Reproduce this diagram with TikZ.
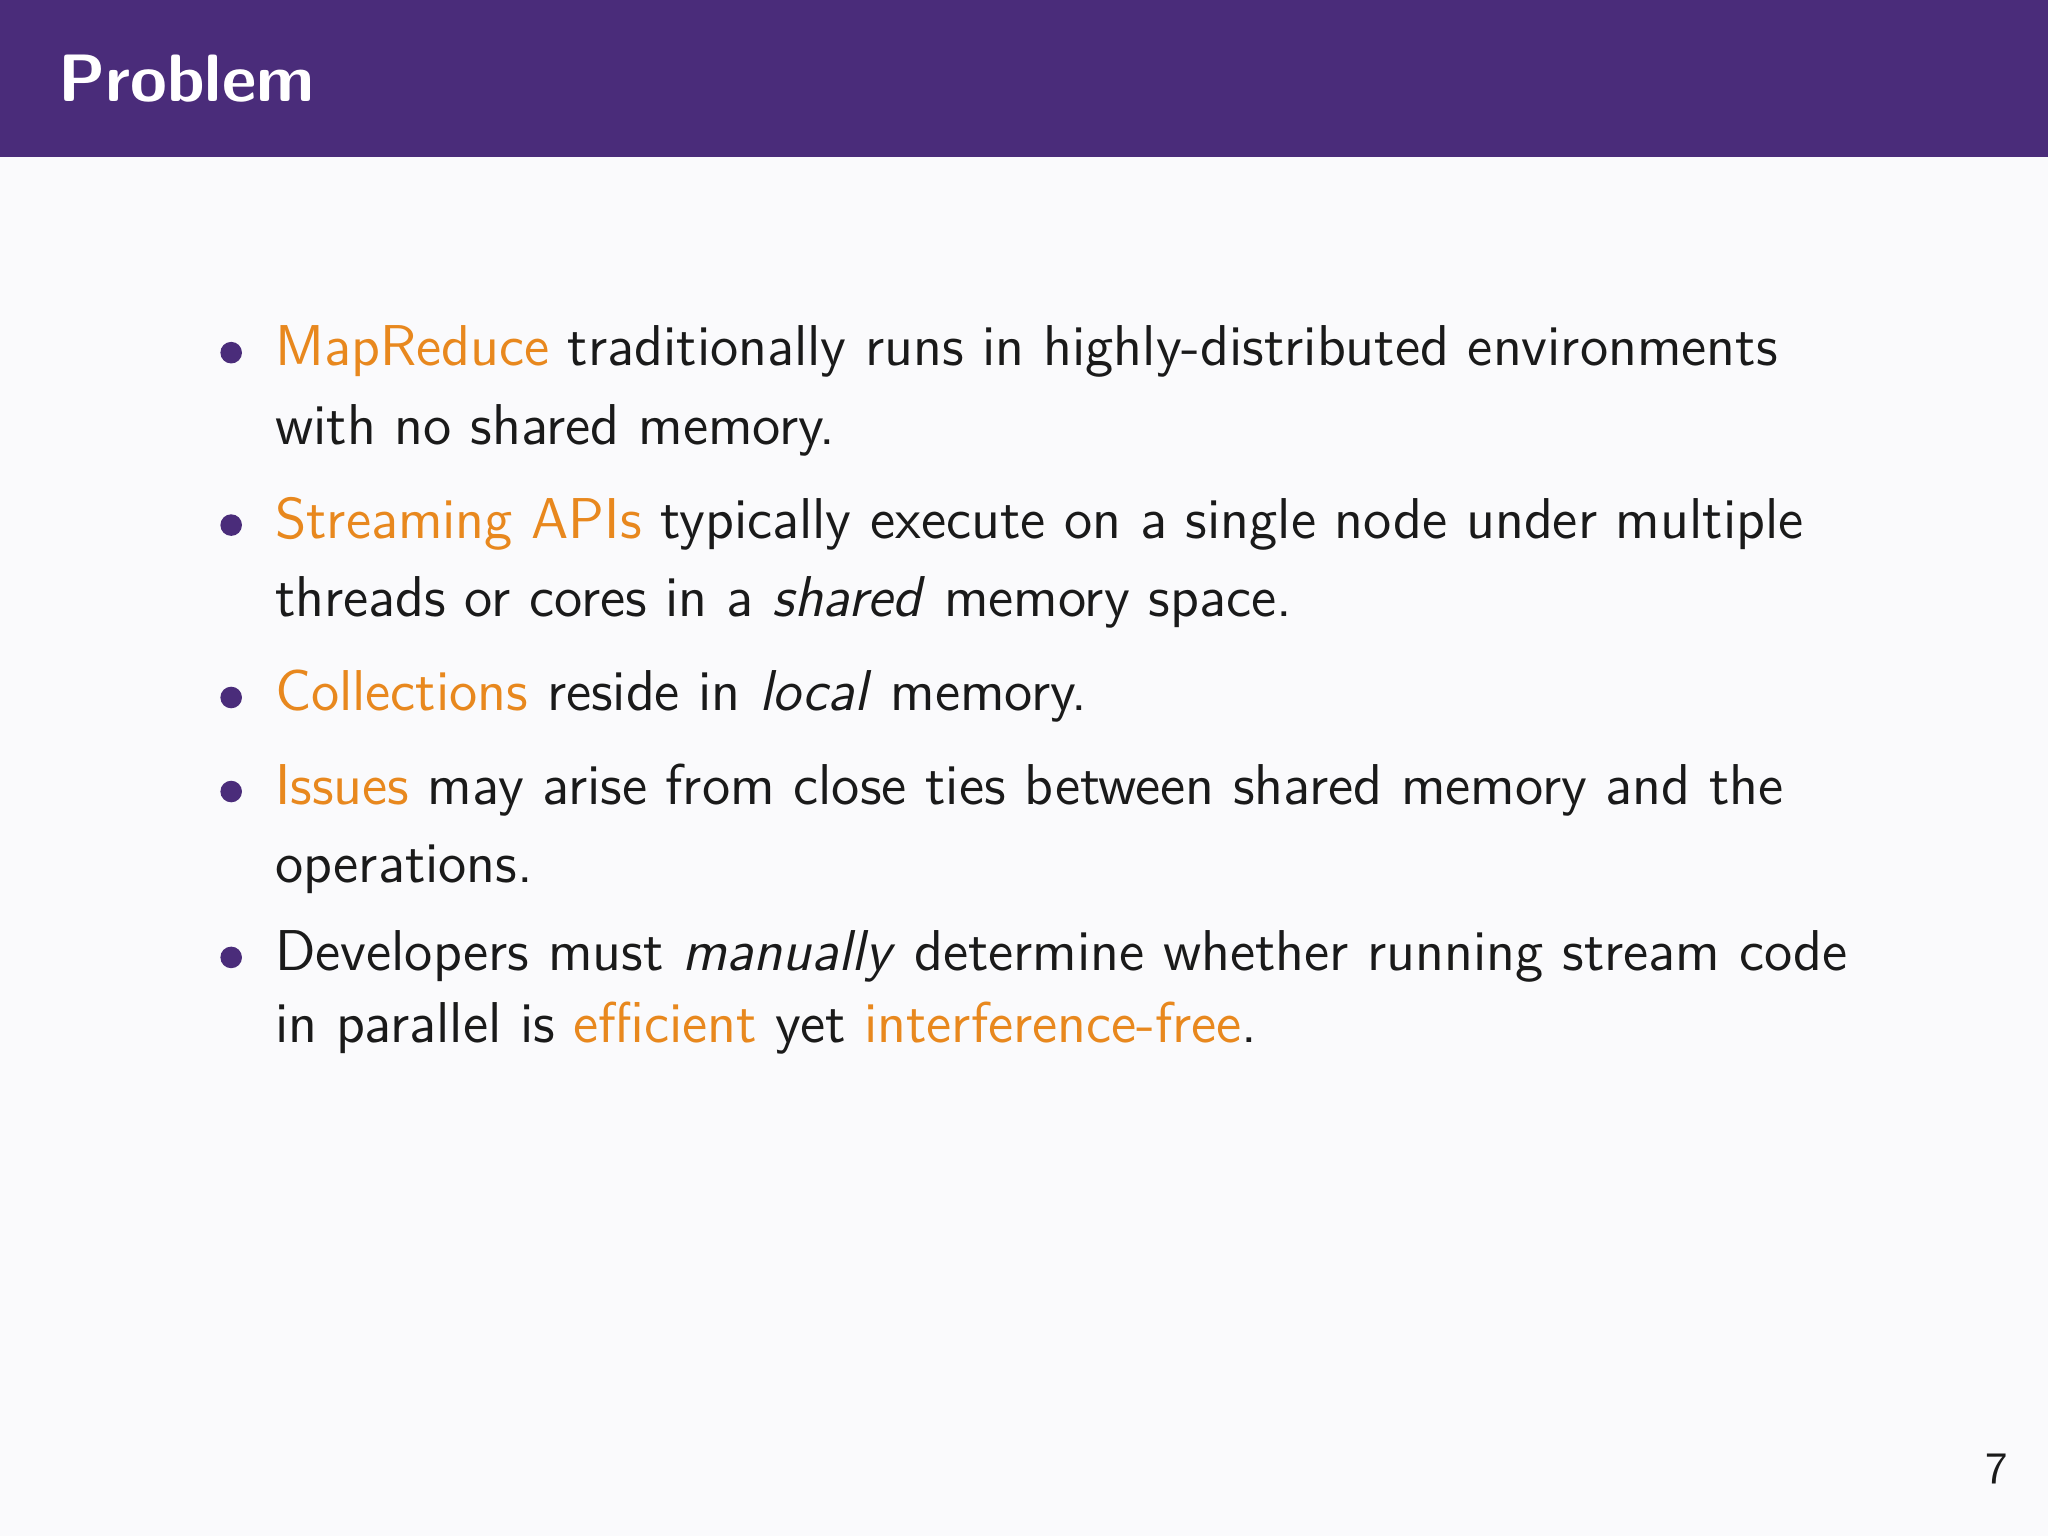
\documentclass[tikz,border=0pt]{standalone}
\usepackage{tikz}
\definecolor{hdr}{HTML}{4A2C7A}
\definecolor{org}{HTML}{E8881E}
\definecolor{bg}{HTML}{FAFAFC}
\definecolor{txt}{HTML}{1A1A1A}
\begin{document}
\begin{tikzpicture}[x=0.010204cm,y=-0.010204cm,
  ln/.style={anchor=base west,inner sep=0,font=\sffamily\fontsize{12.8}{15}\selectfont,text=txt},
  bul/.style={circle,fill=hdr,inner sep=0,minimum size=4.8pt}]
\fill[bg] (0,0) rectangle (1568,1176);
\fill[hdr] (0,0) rectangle (1568,120);
\useasboundingbox (0,0) rectangle (1568,1176);
\node[anchor=base west,inner sep=0,text=white,font=\sffamily\bfseries\fontsize{14.9}{18}\selectfont] (title) at (44,78) {Problem};
\foreach \n/\y in {b1/270,b2/402,b3/534,b4/606,b5/733}
  \node[bul] (\n) at (177,\y) {};
\node[ln] (l1) at (210,280) {\textcolor{org}{MapReduce} traditionally runs in highly-distributed environments};
\node[ln] (l2) at (210,340) {with no shared memory.};
\node[ln] (l3) at (210,412) {\textcolor{org}{Streaming APIs} typically execute on a single node under multiple};
\node[ln] (l4) at (210,472) {threads or cores in a \textit{shared} memory space.};
\node[ln] (l5) at (210,544) {\textcolor{org}{Collections} reside in \textit{local} memory.};
\node[ln] (l6) at (210,616) {\textcolor{org}{Issues} may arise from close ties between shared memory and the};
\node[ln] (l7) at (210,676) {operations.};
\node[ln] (l8) at (210,743) {Developers must \textit{manually} determine whether running stream code};
\node[ln] (l9) at (210,798) {in parallel is \textcolor{org}{efficient} yet \textcolor{org}{interference-free}.};
\node[anchor=base east,inner sep=0,text=txt,font=\sffamily\fontsize{10}{12}\selectfont] (pg) at (1538,1136) {7};
\end{tikzpicture}
\end{document}
